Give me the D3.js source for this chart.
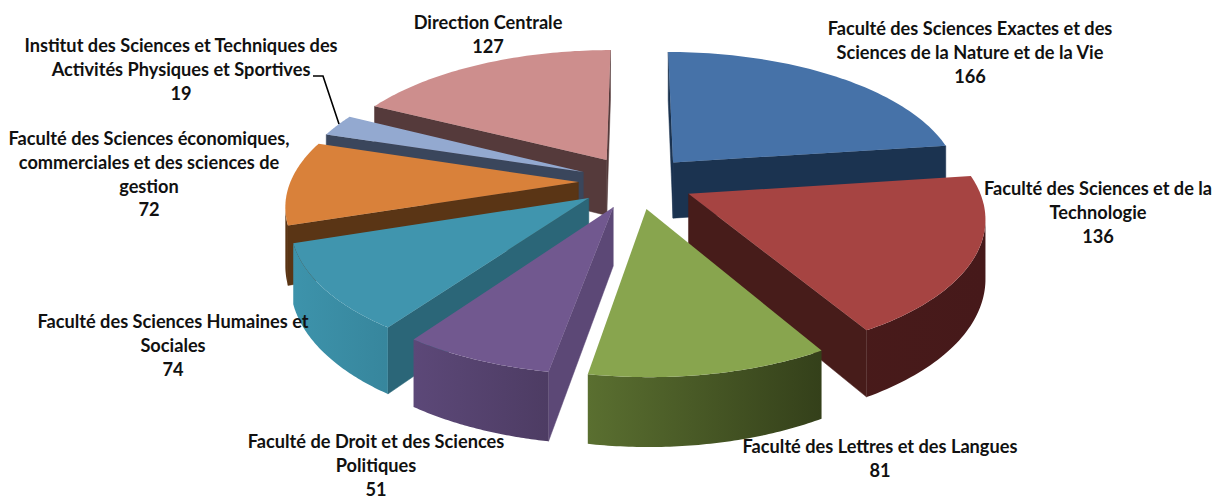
<!DOCTYPE html>
<html><head><meta charset="utf-8">
<script src="https://cdn.jsdelivr.net/npm/d3@7/dist/d3.min.js"></script>
<style>html,body{margin:0;background:#fff}svg{display:block}text{font-family:Lato,"Open Sans",sans-serif;font-weight:700;font-size:18.2px;fill:#111}</style>
</head><body><svg id="c" width="1213" height="498"></svg>
<script>
const categories=["Faculté des Sciences Exactes et des Sciences de la Nature et de la Vie","Faculté des Sciences et de la Technologie","Faculté des Lettres et des Langues","Faculté de Droit et des Sciences Politiques","Faculté des Sciences Humaines et Sociales","Faculté des Sciences économiques, commerciales et des sciences de gestion","Institut des Sciences et Techniques des Activités Physiques et Sportives","Direction Centrale"];
const values=[166,136,81,51,74,72,19,127];
const topColors=["#4672a8","#a64442","#88a54e","#71588f","#4095ae","#d9813a","#93a9d0","#cd8e8d"];
const wallLeft=["#1d3652","#4a1c1a","#5a6f30","#5c4878","#3d93ab","#5a3414","#2f4463","#5a3a38"];
const wallRight=["#1a304b","#46191a","#34401a","#463659","#2a6a7e","#5a3414","#3a465c","#5a3a3a"];
const sideColors=["#1b3350","#471c1a","#3f4f24","#5c4876","#2b6678","#5a3515","#3a465c","#553a3b"];
const labelLines=[["Faculté des Sciences Exactes et des","Sciences de la Nature et de la Vie","166"],["Faculté des Sciences et de la","Technologie","136"],["Faculté des Lettres et des Langues","81"],["Faculté de Droit et des Sciences","Politiques","51"],["Faculté des Sciences Humaines et","Sociales","74"],["Faculté des Sciences économiques,","commerciales et des sciences de","gestion","72"],["Institut des Sciences et Techniques des","Activités Physiques et Sportives","19"],["Direction Centrale","127"]];
const labelX=[970,1098,880,376,173,149,181,488];
const labelY=[35,195,453,448,328,145,52,29];
const lineStep=23.8;
const leader=[[313,76],[323,76],[339,124]];

const cx=636,cy=182,Rx=288,Ry=133,persp=0.154,explode=0.2,height=57;
const svg=d3.select("#c"),defs=svg.append("defs");
const project=(X,Y,z)=>{const s=1/(1-persp*Y);return [cx+Rx*X*s,cy+Ry*Y*s+z*height*s];};
const slices=d3.pie().sort(null)(values);
const area=p=>{let a=0;p.forEach((q,i)=>{const r=p[(i+1)%p.length];a+=q[0]*r[1]-r[0]*q[1];});return a;};
const path=p=>"M"+p.map(q=>q[0].toFixed(2)+","+q[1].toFixed(2)).join("L")+"Z";
const order=d3.range(slices.length).sort((a,b)=>{
  const m=i=>(slices[i].startAngle+slices[i].endAngle)/2;
  return -Math.cos(m(a))+Math.cos(m(b));
});
order.forEach(i=>{
  const d=slices[i],m=(d.startAngle+d.endAngle)/2;
  const ox=explode*Math.sin(m),oy=-explode*Math.cos(m);
  const angles=d3.range(0,61).map(k=>d.startAngle+(d.endAngle-d.startAngle)*k/60);
  const rim=angles.map(a=>[ox+Math.sin(a),oy-Math.cos(a)]);
  const apex=[ox,oy];
  const top=[apex,...rim].map(q=>project(q[0],q[1],0));
  const xs=top.map(q=>q[0]);
  const gid="g"+i;
  const g=defs.append("linearGradient").attr("id",gid).attr("gradientUnits","userSpaceOnUse")
    .attr("x1",d3.min(xs)).attr("x2",d3.max(xs)).attr("y1",0).attr("y2",0);
  g.append("stop").attr("offset",0).attr("stop-color",wallLeft[i]);
  g.append("stop").attr("offset",1).attr("stop-color",wallRight[i]);
  const quad=(a,b)=>[project(a[0],a[1],0),project(b[0],b[1],0),project(b[0],b[1],1),project(a[0],a[1],1)];
  const G=svg.append("g");
  [[apex,rim[0]],[rim[rim.length-1],apex]].forEach(e=>{
    const q=quad(e[0],e[1]);
    if(area(q)<0) G.append("path").attr("d",path(q)).attr("fill",sideColors[i]).attr("stroke",sideColors[i]).attr("stroke-width",.5);
  });
  // outer wall: contiguous front-facing rim runs drawn as single polygons
  let run=[];
  const flush=()=>{
    if(run.length>1){
      const upper=run.map(q=>project(q[0],q[1],0));
      const lower=run.slice().reverse().map(q=>project(q[0],q[1],1));
      G.append("path").attr("d",path([...upper,...lower])).attr("fill",`url(#${gid})`);
    }
    run=[];
  };
  for(let k=0;k<rim.length-1;k++){
    if(area(quad(rim[k],rim[k+1]))<0){ if(!run.length) run.push(rim[k]); run.push(rim[k+1]); }
    else flush();
  }
  flush();
  G.append("path").attr("d",path(top)).attr("fill",topColors[i]);
});
svg.append("path").attr("d",d3.line()(leader)).attr("fill","none").attr("stroke","#000").attr("stroke-width",1.6);
labelLines.forEach((ls,i)=>{
  const t=svg.append("text").attr("text-anchor","middle");
  ls.forEach((l,j)=>t.append("tspan").attr("x",labelX[i]).attr("y",labelY[i]+j*lineStep).text(l));
});
</script></body></html>
